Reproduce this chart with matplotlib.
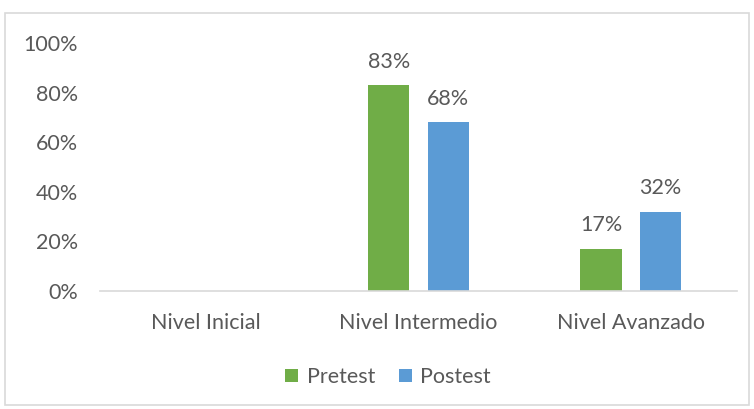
import numpy as np
import matplotlib.pyplot as plt
from matplotlib.patches import Rectangle

# niveles y porcentajes por prueba
niveles = ['Nivel Inicial', 'Nivel Intermedio', 'Nivel Avanzado']
pretest = [0, 83, 17]
postest = [0, 68, 32]
yticks = [0, 20, 40, 60, 80, 100]

verde = '#70AD47'
azul = '#5B9BD5'
gris = '#595959'
fs = 15.5

plt.rcParams['font.family'] = ['Lato', 'DejaVu Sans']

fig = plt.figure(figsize=(7.54, 4.09), dpi=100)
ax = fig.add_axes([100/754, 118/409, 637/754, 248/409])

x = np.arange(len(niveles))
w = 0.195
b1 = ax.bar(x - 0.14, pretest, w, color=verde, label='Pretest')
b2 = ax.bar(x + 0.14, postest, w, color=azul, label='Postest')

#etiquetas de valor, sin mostrar los ceros
for bars, vals in ((b1, pretest), (b2, postest)):
    for r, v in zip(bars, vals):
        if v > 0:
            ax.text(r.get_x() + r.get_width()/2, v + 5.5, f'{v}%', ha='center',
                    va='bottom', fontsize=fs, color=gris)

ax.set_xlim(-0.5, 2.5)
ax.set_ylim(0, 100)
ax.set_yticks(yticks)
ax.set_yticklabels([f'{t}%' for t in yticks])
ax.set_xticks(x)
ax.set_xticklabels(niveles)
ax.tick_params(length=0, labelsize=fs, colors=gris)
ax.tick_params(axis='y', pad=16)
ax.tick_params(axis='x', pad=16)
for s in ['top', 'right', 'left']:
    ax.spines[s].set_visible(False)
ax.spines['bottom'].set_color('#d9d9d9')
ax.spines['bottom'].set_linewidth(1.2)

fig.legend(handles=[b1, b2], loc='center', bbox_to_anchor=(388/754, 1 - 377/409),
           ncol=2, frameon=False, fontsize=fs, labelcolor=gris,
           handlelength=0.6, handleheight=0.6, handletextpad=0.4, columnspacing=1.1)

# borde del grafico
fig.patches.append(Rectangle((5/754, 4/409), 744/754, 392/409, transform=fig.transFigure,
                             fill=False, edgecolor='#d9d9d9', linewidth=1.2))

plt.savefig('out.png', dpi=100)
